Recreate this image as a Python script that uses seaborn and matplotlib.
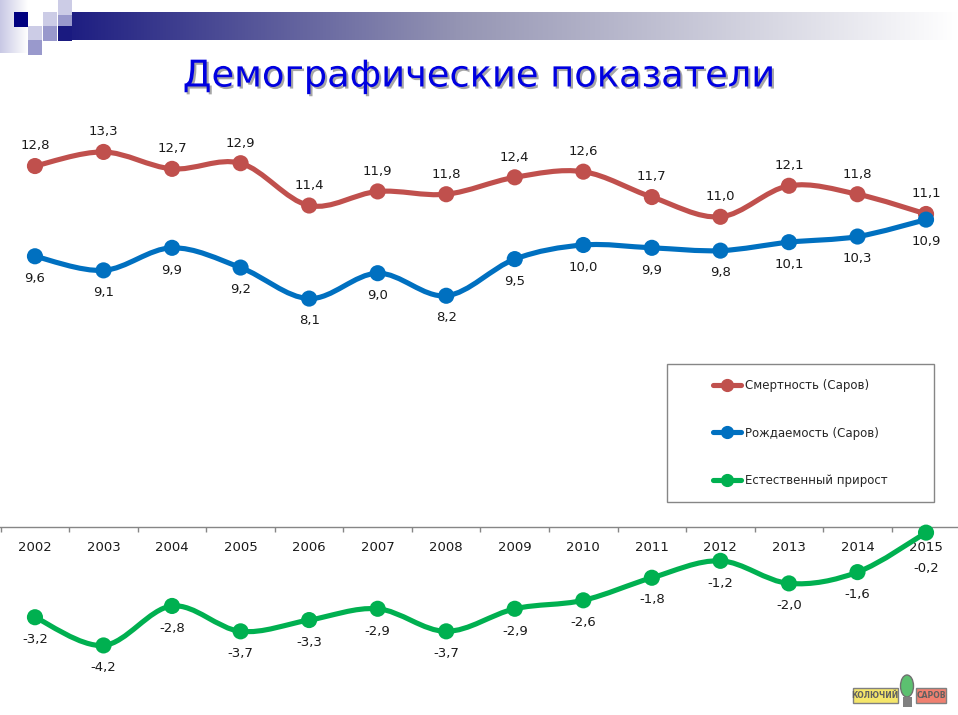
import numpy as np
import matplotlib
matplotlib.use("Agg")
import matplotlib.pyplot as plt
import matplotlib.patheffects as pe
from matplotlib.path import Path
from matplotlib.patches import PathPatch, Rectangle, Ellipse
from matplotlib.lines import Line2D
import seaborn as sns

# -----------------------------
# DATA
# -----------------------------
years = ["2002", "2003", "2004", "2005", "2006", "2007", "2008",
         "2009", "2010", "2011", "2012", "2013", "2014", "2015"]
mortality = [12.8, 13.3, 12.7, 12.9, 11.4, 11.9, 11.8, 12.4, 12.6, 11.7, 11.0, 12.1, 11.8, 11.1]
birth_rate = [9.6, 9.1, 9.9, 9.2, 8.1, 9.0, 8.2, 9.5, 10.0, 9.9, 9.8, 10.1, 10.3, 10.9]
natural_growth = [-3.2, -4.2, -2.8, -3.7, -3.3, -2.9, -3.7, -2.9, -2.6, -1.8, -1.2, -2.0, -1.6, -0.2]
series_names = ["Смертность (Саров)", "Рождаемость (Саров)", "Естественный прирост"]
title_text = "Демографические показатели"

RED = "#C0504D"
BLUE = "#0070C0"
GREEN = "#00B050"

W, H = 958, 715


def fmt(v):
    return f"{v:.1f}".replace(".", ",")


def smooth_path(xs, ys, t=1/6):
    # Excel-like smoothed line: cubic Bezier segments through the points
    pts = np.column_stack([xs, ys]).astype(float)
    n = len(pts)
    verts = [pts[0]]
    codes = [Path.MOVETO]
    for i in range(n - 1):
        p0 = pts[max(i - 1, 0)]
        p1 = pts[i]
        p2 = pts[i + 1]
        p3 = pts[min(i + 2, n - 1)]
        c1 = p1 + (p2 - p0) * t
        c2 = p2 - (p3 - p1) * t
        verts += [c1, c2, p2]
        codes += [Path.CURVE4] * 3
    return Path(verts, codes)


sns.set_theme(style="white")
plt.rcParams["font.family"] = ["DejaVu Sans"]

fig = plt.figure(figsize=(W / 100, H / 100), dpi=100)
fig.patch.set_facecolor("white")

# -----------------------------
# DECORATION (header bar + squares)
# -----------------------------
deco = fig.add_axes([0, 0, 1, 1], zorder=0)
deco.set_xlim(0, W)
deco.set_ylim(H, 0)
deco.axis("off")

c0 = np.array([26, 26, 128]) / 255
c1 = np.array([150, 150, 180]) / 255
c2 = np.array([255, 255, 255]) / 255
g = np.linspace(0, 1, 400)
grad = np.where(g[:, None] < 0.45,
                c0 + (c1 - c0) * (g[:, None] / 0.45),
                c1 + (c2 - c1) * ((g[:, None] - 0.45) / 0.55))
deco.imshow(grad[None, :, :], extent=(58, W, 40, 12), aspect="auto", zorder=1)

lg = np.linspace(0, 1, 50)
lcol = np.array([200, 200, 228]) / 255
left_grad = lcol + (c2 - lcol) * lg[:, None]
deco.imshow(left_grad[None, :, :], extent=(0, 28, 53, 0), aspect="auto", zorder=1)

sq = 14.5
squares = [
    (14, 12, "#000080"),
    (43, 12, "#CCCCE6"),
    (58, 12, "#9999CC"),
    (58, 0, "#CCCCE6"),
    (28, 26, "#CCCCE6"),
    (43, 26, "#9999CC"),
    (58, 26, "#1A1A80"),
    (28, 40, "#9999CC"),
]
for sx, sy, col in squares:
    deco.add_patch(Rectangle((sx, sy), sq, sq, facecolor=col, edgecolor="none", zorder=2))

# logo bottom right
deco.add_patch(Rectangle((853, 688), 45, 15, facecolor="#F5E66A", edgecolor="#808080", lw=1, zorder=2))
deco.add_patch(Rectangle((916, 688), 30, 15, facecolor="#F08070", edgecolor="#808080", lw=1, zorder=2))
deco.add_patch(Ellipse((907, 686), 13, 22, facecolor="#5CC070", edgecolor="#707070", lw=1, zorder=3))
deco.add_patch(Rectangle((903, 697), 9, 10, facecolor="#808080", edgecolor="none", zorder=3))
deco.text(875, 696, "КОЛЮЧИЙ", fontsize=5.5, fontweight="bold", color="#606060", ha="center", va="center", zorder=4)
deco.text(931, 696, "САРОВ", fontsize=5.5, fontweight="bold", color="#606060", ha="center", va="center", zorder=4)

# title
deco.text(479, 76, title_text, fontsize=26.5, color="#0000E0", ha="center", va="center", zorder=4,
          path_effects=[pe.SimplePatchShadow(offset=(1.5, -1.5), shadow_rgbFace="#909090", alpha=0.8),
                        pe.Normal()])

# legend frame
deco.add_patch(Rectangle((667, 364), 267, 138, facecolor="white", edgecolor="#868686", lw=1, zorder=2))

# -----------------------------
# CHART
# -----------------------------
ax_top, ax_bottom = 100, 680
zero_px = 527
scale = 28.2
ax = fig.add_axes([0, (H - ax_bottom) / H, 960.3 / W, (ax_bottom - ax_top) / H], zorder=2)
ax.patch.set_alpha(0)
ax.set_xlim(-0.51, 13.5)
ax.set_ylim(-(ax_bottom - zero_px) / scale, (zero_px - ax_top) / scale)

x = np.arange(len(years))
for vals, col, name in [(mortality, RED, series_names[0]),
                        (birth_rate, BLUE, series_names[1]),
                        (natural_growth, GREEN, series_names[2])]:
    ax.add_patch(PathPatch(smooth_path(x, vals), facecolor="none", edgecolor=col,
                           lw=3.7, capstyle="round", joinstyle="round", zorder=3))
    sns.scatterplot(x=x, y=vals, color=col, s=135, edgecolor="none", ax=ax, zorder=4, legend=False)

label_size = 9.5
for i, v in enumerate(mortality):
    ax.annotate(fmt(v), (i, v), xytext=(0, 14.5), textcoords="offset points",
                ha="center", va="center", fontsize=label_size, color="#1a1a1a")
for i, v in enumerate(birth_rate):
    ax.annotate(fmt(v), (i, v), xytext=(0, -16), textcoords="offset points",
                ha="center", va="center", fontsize=label_size, color="#1a1a1a")
green_offsets = {13: -26}
for i, v in enumerate(natural_growth):
    ax.annotate(fmt(v), (i, v), xytext=(0, green_offsets.get(i, -16)), textcoords="offset points",
                ha="center", va="center", fontsize=label_size, color="#1a1a1a")

# category axis at zero
for s in ["top", "left", "right"]:
    ax.spines[s].set_visible(False)
ax.spines["bottom"].set_position(("data", 0))
ax.spines["bottom"].set_color("#868686")
ax.spines["bottom"].set_linewidth(1)
ax.set_xticks(x)
ax.set_xticklabels(years)
ax.set_xticks(np.arange(-0.5, 14, 1), minor=True)
ax.tick_params(axis="x", which="major", length=0, pad=10, labelsize=9.5, labelcolor="#1a1a1a")
ax.tick_params(axis="x", which="minor", length=3.6, width=1, color="#868686", direction="out", bottom=True)
ax.set_yticks([])
ax.grid(False)

# legend
handles = [Line2D([0], [0], color=c, lw=3.7, marker="o", markersize=8.5) for c in (RED, BLUE, GREEN)]
leg = fig.legend(handles, series_names, loc="center", bbox_to_anchor=(800 / W, 1 - 433 / H),
                 frameon=False, fontsize=8.5, handlelength=2.4, handletextpad=0.3,
                 labelspacing=2.95)
leg.set_zorder(5)

fig.savefig("out.png", dpi=100)
